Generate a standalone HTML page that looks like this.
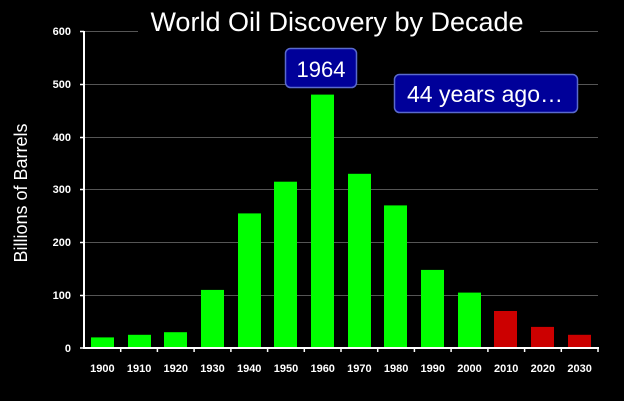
<!DOCTYPE html>
<html><head><style>body{margin:0;background:#000;}svg{display:block}</style></head><body>
<svg width="624" height="401" xmlns="http://www.w3.org/2000/svg" font-family="Liberation Sans, sans-serif">
<rect width="624" height="401" fill="#000"/>
<g stroke="#555" stroke-width="1">
<line x1="84" y1="31.5" x2="138" y2="31.5"/><line x1="540" y1="31.5" x2="598" y2="31.5"/>
<line x1="84" y1="84.5" x2="598" y2="84.5"/>
<line x1="84" y1="137.5" x2="598" y2="137.5"/>
<line x1="84" y1="189.5" x2="598" y2="189.5"/>
<line x1="84" y1="242.5" x2="598" y2="242.5"/>
<line x1="84" y1="295.5" x2="598" y2="295.5"/>
</g>
<g fill="#00ff00">
<rect x="91" y="337.4" width="23" height="10.6"/>
<rect x="128" y="334.8" width="23" height="13.2"/>
<rect x="164" y="332.2" width="23" height="15.8"/>
<rect x="201" y="289.9" width="23" height="58.1"/>
<rect x="238" y="213.4" width="23" height="134.6"/>
<rect x="274" y="181.7" width="23" height="166.3"/>
<rect x="311" y="94.6" width="23" height="253.4"/>
<rect x="348" y="173.8" width="23" height="174.2"/>
<rect x="384" y="205.4" width="23" height="142.6"/>
<rect x="421" y="269.9" width="23" height="78.1"/>
<rect x="458" y="292.6" width="23" height="55.4"/>
</g>
<g fill="#cc0000">
<rect x="494" y="311" width="23" height="37"/>
<rect x="531" y="326.9" width="23" height="21.1"/>
<rect x="568" y="334.8" width="23" height="13.2"/>
</g>
<g stroke="#fff" stroke-width="2">
<line x1="84" y1="31" x2="84" y2="349"/>
<line x1="83" y1="348" x2="599" y2="348"/>
</g>
<g stroke="#fff" stroke-width="1.5">
<line x1="80" y1="31.5" x2="84" y2="31.5"/><line x1="80" y1="84.5" x2="84" y2="84.5"/><line x1="80" y1="137.5" x2="84" y2="137.5"/><line x1="80" y1="189.5" x2="84" y2="189.5"/><line x1="80" y1="242.5" x2="84" y2="242.5"/><line x1="80" y1="295.5" x2="84" y2="295.5"/><line x1="80" y1="348" x2="84" y2="348"/>
<line x1="120.7" y1="348" x2="120.7" y2="352"/><line x1="157.4" y1="348" x2="157.4" y2="352"/><line x1="194.1" y1="348" x2="194.1" y2="352"/><line x1="230.9" y1="348" x2="230.9" y2="352"/><line x1="267.6" y1="348" x2="267.6" y2="352"/><line x1="304.3" y1="348" x2="304.3" y2="352"/><line x1="341" y1="348" x2="341" y2="352"/><line x1="377.7" y1="348" x2="377.7" y2="352"/><line x1="414.4" y1="348" x2="414.4" y2="352"/><line x1="451.1" y1="348" x2="451.1" y2="352"/><line x1="487.9" y1="348" x2="487.9" y2="352"/><line x1="524.6" y1="348" x2="524.6" y2="352"/><line x1="561.3" y1="348" x2="561.3" y2="352"/><line x1="598" y1="348" x2="598" y2="352"/>
</g>
<g fill="#fff" font-size="11" font-weight="bold" text-anchor="end">
<text x="71" y="35">600</text><text x="71" y="88">500</text><text x="71" y="141">400</text><text x="71" y="193">300</text><text x="71" y="246">200</text><text x="71" y="299">100</text><text x="71" y="352">0</text>
</g>
<g fill="#fff" font-size="11" font-weight="bold" text-anchor="middle">
<text x="102.4" y="372">1900</text><text x="139.1" y="372">1910</text><text x="175.8" y="372">1920</text><text x="212.5" y="372">1930</text><text x="249.2" y="372">1940</text><text x="286" y="372">1950</text><text x="322.7" y="372">1960</text><text x="359.4" y="372">1970</text><text x="396.1" y="372">1980</text><text x="432.8" y="372">1990</text><text x="469.5" y="372">2000</text><text x="506.2" y="372">2010</text><text x="542.9" y="372">2020</text><text x="579.6" y="372">2030</text>
</g>
<text x="337" y="31" fill="#fff" font-size="27" text-anchor="middle">World Oil Discovery by Decade</text>
<text transform="translate(27,193) rotate(-90)" fill="#fff" font-size="18" text-anchor="middle">Billions of Barrels</text>
<rect x="285.5" y="48.5" width="71" height="39" rx="5" fill="#000099" stroke="#5a6acc" stroke-width="1.5"/>
<text x="321" y="77" fill="#fff" font-size="22" text-anchor="middle">1964</text>
<rect x="394.5" y="74.5" width="183" height="38" rx="5" fill="#000099" stroke="#5a6acc" stroke-width="1.5"/>
<text x="485" y="102" fill="#fff" font-size="23" text-anchor="middle">44 years ago…</text>
</svg>
</body></html>
